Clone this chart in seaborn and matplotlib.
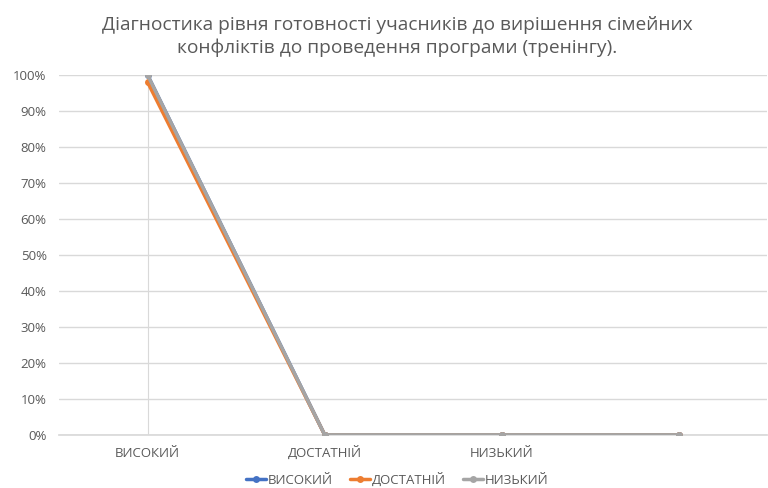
import matplotlib
matplotlib.use("Agg")
import matplotlib.pyplot as plt
import seaborn as sns
import pandas as pd
from matplotlib.ticker import PercentFormatter

categories = ["ВИСОКИЙ", "ДОСТАТНІЙ", "НИЗЬКИЙ", ""]
series_names = ["ВИСОКИЙ", "ДОСТАТНІЙ", "НИЗЬКИЙ"]
vysokyi = [1.00, 0.00, 0.00, 0.00]
dostatnii = [0.98, 0.00, 0.00, 0.00]
nyzkyi = [1.00, 0.00, 0.00, 0.00]
colors = ["#4472C4", "#ED7D31", "#A5A5A5"]
title = "Діагностика рівня готовності учасників до вирішення сімейних\nконфліктів до проведення програми (тренінгу)."

rows = []
for name, vals in zip(series_names, [vysokyi, dostatnii, nyzkyi]):
    for i, v in enumerate(vals):
        rows.append({"pos": i, "value": v, "series": name})
df = pd.DataFrame(rows)

sns.set_theme(style="white")
plt.rcParams["font.family"] = ["Open Sans", "DejaVu Sans"]

fig = plt.figure(figsize=(7.68, 4.88), dpi=100)
ax = fig.add_axes([0.077, 0.109, 0.922, 0.737])

sns.lineplot(data=df, x="pos", y="value", hue="series", hue_order=series_names,
             palette=colors, marker="o", markersize=5, markeredgewidth=0,
             linewidth=2.5, sort=False, ax=ax, legend=True, zorder=3)

ax.set_xlim(-0.5, len(categories) - 0.5)
ax.set_ylim(0, 1)
ax.set_yticks([i / 10 for i in range(11)])
ax.yaxis.set_major_formatter(PercentFormatter(1.0, decimals=0))
ax.set_xticks(range(len(categories)))
ax.set_xticklabels(categories)
ax.grid(axis="y", color="#D9D9D9", linewidth=1)
ax.axvline(0, color="#D9D9D9", linewidth=0.8, zorder=1)
for s in ["top", "right", "left"]:
    ax.spines[s].set_visible(False)
ax.spines["bottom"].set_color("#D9D9D9")
ax.tick_params(axis="both", length=0, labelsize=9.5, colors="#595959")
ax.tick_params(axis="x", pad=16)
ax.tick_params(axis="y", pad=9)
for lbl in ax.get_xticklabels():
    lbl.set_verticalalignment("baseline")
ax.set_xlabel("")
ax.set_ylabel("")

fig.suptitle(title, x=0.517, y=0.968, fontsize=13.8, color="#595959", linespacing=1.33)

handles, labels = ax.get_legend_handles_labels()
ax.get_legend().remove()
fig.legend(handles, labels, loc="center", bbox_to_anchor=(0.517, 0.017),
           ncol=3, frameon=False, fontsize=9.5, labelcolor="#595959",
           handlelength=1.5, handletextpad=0.15, columnspacing=1.3)

fig.savefig("out.png", dpi=100)
